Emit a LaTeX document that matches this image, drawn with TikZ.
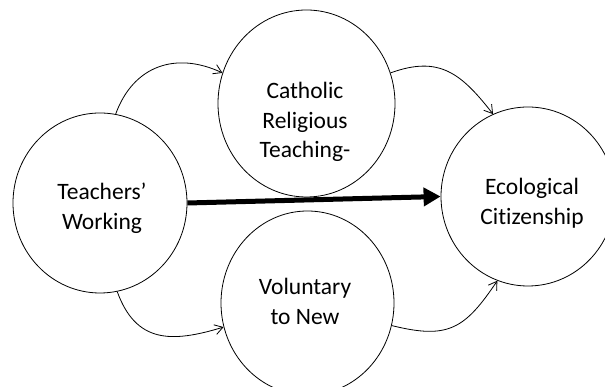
\documentclass[tikz,border=0pt]{standalone}
\usepackage{fontspec}
\setmainfont{Carlito}[Ligatures={TeX,NoCommon}]
\usetikzlibrary{shapes.geometric,arrows.meta}

\begin{document}
\begin{tikzpicture}[x=1pt,y=1pt]
        \tikzset{VertexStyle/.style={draw, ellipse, line width=0.8pt, inner sep=0pt},
        LabelStyle/.style={align=center, inner sep=0pt, font=\fontsize{23.5}{29.5}\selectfont},
        EdgeStyle/.style={->, line width=0.8pt},
        MainEdge/.style={-{Triangle[length=17pt,width=18pt]}, line width=5pt},
        >={Straight Barb[length=8pt,width=10pt]}}
        \clip (0,0) rectangle (605,387);
        \node[VertexStyle, minimum width=174, minimum height=180] (Teach) at (100,184) {};
        \node[VertexStyle, minimum width=177, minimum height=187] (Cath) at (306.5,283.5) {};
        \node[VertexStyle, minimum width=173, minimum height=184] (Vol) at (307.5,84) {};
        \node[VertexStyle, minimum width=174, minimum height=179] (Eco) at (528,190.5) {};
        \node[LabelStyle] (TeachL) at (102,179) {Teachers'\\Working};
        \node[LabelStyle] (CathL) at (305,265) {Catholic\\Religious\\Teaching-};
        \node[LabelStyle] (VolL) at (305,85.5) {Voluntary\\to New};
        \node[LabelStyle] (EcoL) at (532,184) {Ecological\\Citizenship};
        \draw[EdgeStyle] (Teach.80) to[out=70, in=155, looseness=1.15] (Cath.160);
        \draw[EdgeStyle] (Cath.20) to[out=20, in=128, looseness=1.2] (Eco.113);
        \draw[EdgeStyle] (Teach.-79) to[out=-70, in=197, looseness=1.25] (Vol.-164);
        \draw[EdgeStyle] (Vol.-15) to[out=-14, in=236, looseness=1.3] (Eco.250);
        \draw[MainEdge] (Teach.east) -- (Eco.west);
    \end{tikzpicture}
\end{document}
